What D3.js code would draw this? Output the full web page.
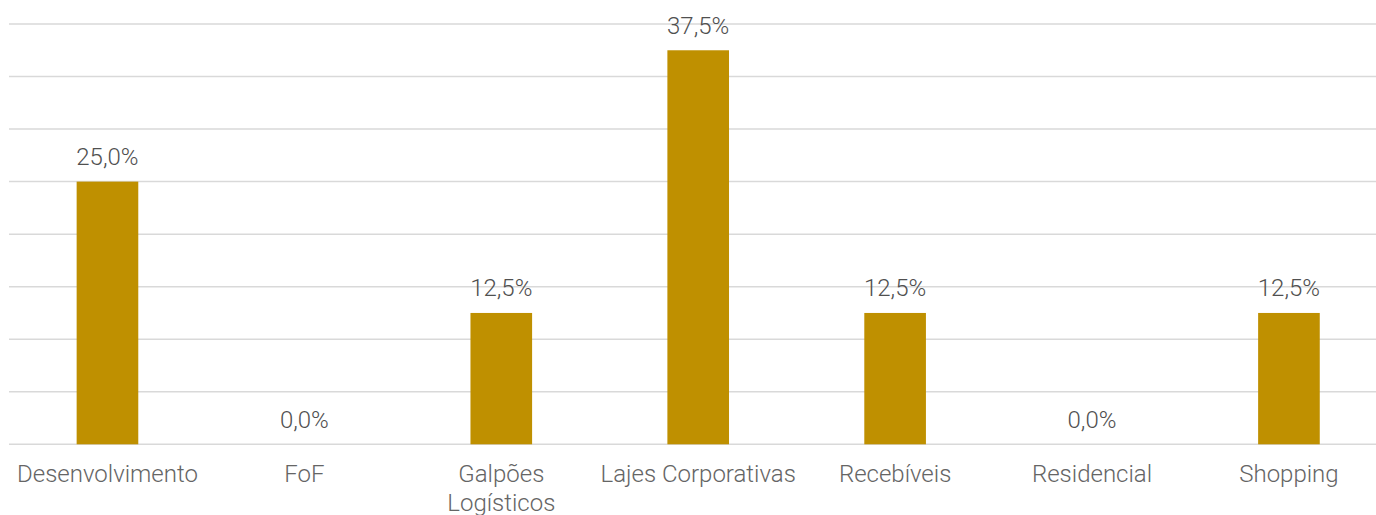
<!DOCTYPE html>
<html><head><meta charset="utf-8">
<script src="https://cdn.jsdelivr.net/npm/d3@7"></script>
<style>html,body{margin:0;padding:0;background:#fff;overflow:hidden}</style>
</head><body>
<svg id="c" width="1376" height="515"></svg>
<script>
const categories = ["Desenvolvimento","FoF","Galpões Logísticos","Lajes Corporativas","Recebíveis","Residencial","Shopping"];
const labelLines = [["Desenvolvimento"],["FoF"],["Galpões","Logísticos"],["Lajes Corporativas"],["Recebíveis"],["Residencial"],["Shopping"]];
const values = [25.0, 0.0, 12.5, 37.5, 12.5, 0.0, 12.5];
const yTicks = [0,5,10,15,20,25,30,35,40];

const svg = d3.select("#c");
const font = "'Roboto Light', Roboto, 'Liberation Sans', sans-serif";
const x = d3.scaleBand().domain(categories).range([9, 1387.4]).paddingInner(0.687).paddingOuter(0.3435);
const y = d3.scaleLinear().domain([0,40]).range([444.3, 24]);

svg.append("g").selectAll("line").data(yTicks).join("line")
  .attr("x1", 9).attr("x2", 1376)
  .attr("y1", d => y(d)).attr("y2", d => y(d))
  .attr("stroke", "#d9d9d9").attr("stroke-width", 1.5);

svg.append("g").selectAll("rect").data(values).join("rect")
  .attr("x", (d,i) => x(categories[i]))
  .attr("width", x.bandwidth())
  .attr("y", d => y(d))
  .attr("height", d => y(0) - y(d))
  .attr("fill", "#bf9000");

const fmt = v => v.toFixed(1).replace(".", ",") + "%";
svg.append("g").selectAll("text").data(values).join("text")
  .attr("x", (d,i) => x(categories[i]) + x.bandwidth()/2)
  .attr("y", d => y(d) - 16.5)
  .attr("text-anchor", "middle")
  .attr("font-family", font).attr("font-weight", 300).attr("font-size", 24)
  .attr("fill", "#505050")
  .text(d => fmt(d));

const lab = svg.append("g").selectAll("text").data(labelLines).join("text")
  .attr("text-anchor", "middle")
  .attr("font-family", font).attr("font-weight", 300).attr("font-size", 24)
  .attr("fill", "#656565")
  .attr("transform", (d,i) => `translate(${x(categories[i]) + x.bandwidth()/2},482)`);
lab.selectAll("tspan").data(d => d).join("tspan")
  .attr("x", 0).attr("dy", (d,j) => j === 0 ? 0 : 29)
  .text(d => d);
</script>
</body></html>
